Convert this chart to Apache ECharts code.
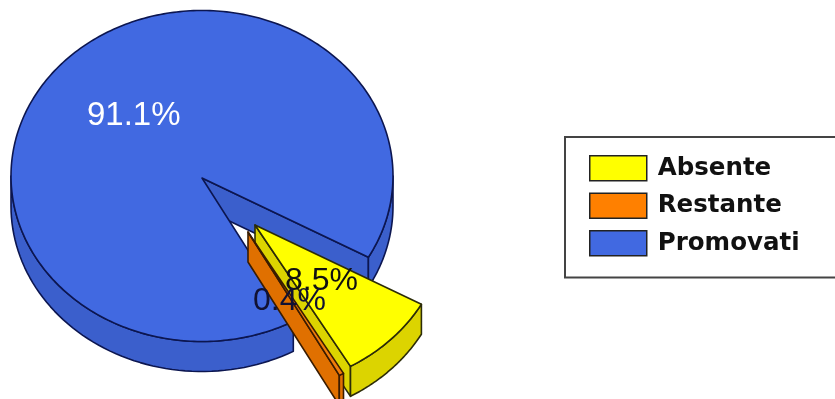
<!DOCTYPE html>
<html>
<head>
<meta charset="utf-8">
<style>
  html, body { margin: 0; padding: 0; background: #fff; overflow: hidden; }
  #chart { width: 835px; height: 399px; }
</style>
<script src="https://cdn.jsdelivr.net/npm/echarts@6/dist/echarts.min.js"></script>
</head>
<body>
<div id="chart"></div>
<script>
// values, percent
const categories = ['Absente', 'Restante', 'Promovati'];
const shares = [8.5, 0.4, 91.1];
const topColors = ['#ffff00', '#f07c0c', '#4169e1'];
const swatchColors = ['#ffff00', '#ff8000', '#4169e1'];
const wallColors = ['#dcd400', '#e07000', '#3b5fcc'];
const lineColors = ['#2c2c08', '#3a1c00', '#0c1650'];
// exploded slices are shifted from the pie centre
const shiftX = [53, 46, 0];
const shiftY = [47, 54, 0];

const centerX = 202;
const centerY = 176;
const tipDrop = 2; // the slice tips sit a little below the rim centre
const radiusX = 191;
const radiusY = 165.5;
const depth = 30;
const firstAngle = 29.4;

const rad = (d) => d * Math.PI / 180;

// one slice of the tilted pie: end wall, outer wall, top face
const renderSlice = (i) => (params, api) => {
  let before = 0;
  for (let k = 0; k < i; k++) before += shares[k];
  const from = firstAngle + before * 3.6;
  const to = from + api.value(0) * 3.6;
  const cx = centerX + shiftX[i];
  const cy = centerY + shiftY[i];
  const apex = [cx, cy + tipDrop];
  const rim = (a, dy) => [
    cx + radiusX * Math.cos(rad(a)),
    cy + radiusY * Math.sin(rad(a)) + dy
  ];
  const style = { stroke: lineColors[i], lineWidth: 1.6, lineJoin: 'round' };
  const children = [];

  // wall on the cut side that faces the viewer
  const tip = rim(to, 0);
  children.push({
    type: 'polygon',
    shape: { points: [apex, tip, [tip[0], tip[1] + depth], [apex[0], apex[1] + depth]] },
    style: { ...style, fill: wallColors[i] }
  });

  // outer wall, only where the rim is in front
  [[0, 180], [360, 540]].forEach(([lo, hi]) => {
    const a0 = Math.max(from, lo);
    const a1 = Math.min(to, hi);
    if (a1 <= a0) return;
    const upper = [];
    const lower = [];
    for (let s = 0; s <= 60; s++) {
      const a = a0 + (a1 - a0) * s / 60;
      upper.push(rim(a, 0));
      lower.unshift(rim(a, depth));
    }
    children.push({
      type: 'polygon',
      shape: { points: upper.concat(lower) },
      style: { ...style, fill: wallColors[i] }
    });
  });

  // top face
  const face = [apex];
  const steps = Math.max(4, Math.ceil(to - from));
  for (let s = 0; s <= steps; s++) face.push(rim(from + (to - from) * s / steps, 0));
  children.push({
    type: 'polygon',
    shape: { points: face },
    style: { ...style, fill: topColors[i] }
  });

  return { type: 'group', children };
};

const chart = echarts.init(document.getElementById('chart'));

const slice = (i, z) => ({
  name: categories[i],
  type: 'custom',
  coordinateSystem: 'none',
  z,
  silent: true,
  animation: false,
  itemStyle: { color: swatchColors[i] },
  data: [[shares[i]]],
  renderItem: renderSlice(i)
});

const percentText = (i, left, top, size, color) => ({
  type: 'text',
  left,
  top,
  z: 20,
  style: {
    text: shares[i].toFixed(1) + '%',
    font: size + 'px "Liberation Sans", Arial, sans-serif',
    fill: color
  }
});

chart.setOption({
  animation: false,
  backgroundColor: '#ffffff',
  legend: {
    orient: 'vertical',
    left: 565,
    top: 137,
    padding: [18, 60, 21, 24],
    itemGap: 11,
    itemWidth: 57,
    itemHeight: 25,
    icon: 'rect',
    backgroundColor: '#ffffff',
    borderColor: '#444444',
    borderWidth: 2,
    borderRadius: 0,
    selectedMode: false,
    itemStyle: { borderColor: '#222222', borderWidth: 1.5 },
    textStyle: {
      color: '#111111',
      fontFamily: 'DejaVu Sans',
      fontWeight: 'bold',
      fontSize: 24.5,
      lineHeight: 25,
      padding: [0, 0, 0, 6]
    },
    data: categories.map((name) => ({ name, icon: 'rect' }))
  },
  series: [slice(2, 2), slice(0, 3), slice(1, 4)],
  graphic: [
    percentText(2, 87, 99, 33, '#ffffff'),
    percentText(0, 285, 265, 32, '#111111'),
    percentText(1, 253, 285, 32, '#111133')
  ]
});

window.addEventListener('resize', () => chart.resize());
</script>
</body>
</html>
